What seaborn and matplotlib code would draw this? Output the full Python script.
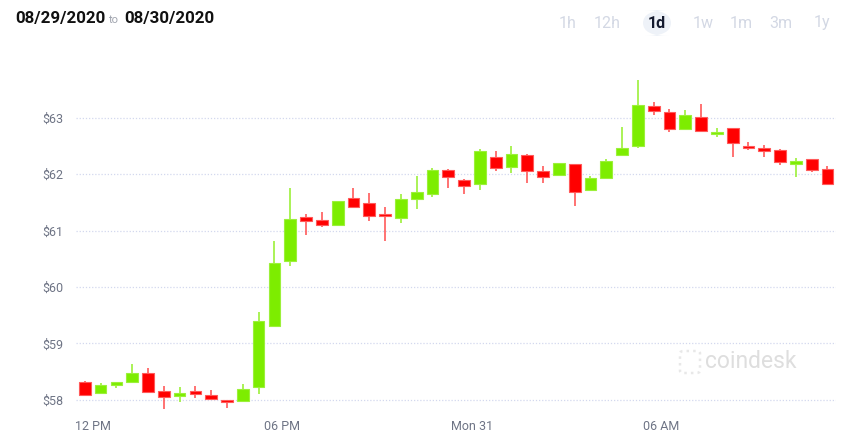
"""Candlestick chart, 30 min candles, 1d view."""
import matplotlib
matplotlib.use("Agg")
import matplotlib.pyplot as plt
import matplotlib.dates as mdates
from matplotlib.patches import FancyBboxPatch
import numpy as np
import pandas as pd
import seaborn as sns

# candle open times (30 min)
candle_start = "2020-08-30 11:30"
n_candles = 48

opens = [58.31, 58.13, 58.27, 58.31, 58.47, 58.16, 58.07, 58.16, 58.08, 57.99, 57.98, 58.22,
         59.30, 60.46, 61.24, 61.19, 61.10, 61.57, 61.49, 61.30, 61.22, 61.56, 61.65, 62.07,
         61.89, 61.83, 62.31, 62.13, 62.34, 62.05, 61.98, 62.18, 61.72, 61.93, 62.34, 62.49,
         63.21, 63.10, 62.80, 63.01, 62.71, 62.82, 62.50, 62.47, 62.42, 62.18, 62.27, 62.09]
highs = [58.33, 58.30, 58.31, 58.63, 58.57, 58.25, 58.22, 58.25, 58.18, 57.99, 58.28, 59.56,
         60.82, 61.76, 61.29, 61.33, 61.53, 61.76, 61.66, 61.42, 61.65, 61.96, 62.10, 62.09,
         61.91, 62.45, 62.40, 62.50, 62.35, 62.15, 62.20, 62.18, 61.97, 62.26, 62.84, 63.67,
         63.27, 63.15, 63.13, 63.25, 62.82, 62.82, 62.57, 62.52, 62.45, 62.29, 62.27, 62.14]
lows = [58.07, 58.11, 58.21, 58.29, 58.14, 57.83, 57.97, 58.04, 58.01, 57.86, 57.98, 58.11,
        59.30, 60.38, 60.92, 61.07, 61.08, 61.39, 61.17, 60.81, 61.13, 61.38, 61.59, 61.75,
        61.65, 61.71, 62.05, 62.02, 61.84, 61.85, 61.98, 61.44, 61.72, 61.91, 62.32, 62.46,
        63.04, 62.74, 62.80, 62.77, 62.65, 62.31, 62.43, 62.31, 62.16, 61.94, 62.04, 61.80]
closes = [58.09, 58.27, 58.31, 58.47, 58.14, 58.05, 58.12, 58.11, 58.02, 57.96, 58.20, 59.40,
          60.42, 61.20, 61.17, 61.09, 61.53, 61.42, 61.26, 61.25, 61.56, 61.69, 62.08, 61.94,
          61.79, 62.40, 62.11, 62.36, 62.05, 61.95, 62.19, 61.69, 61.93, 62.24, 62.47, 63.23,
          63.11, 62.80, 63.04, 62.77, 62.74, 62.55, 62.47, 62.41, 62.21, 62.23, 62.08, 61.82]

y_ticks = [58, 59, 60, 61, 62, 63]
x_tick_times = ["2020-08-30 12:00", "2020-08-30 18:00", "2020-08-31 00:00", "2020-08-31 06:00"]
x_tick_labels = ["12 PM", "06 PM", "Mon 31", "06 AM"]
ranges = ["1h", "12h", "1d", "1w", "1m", "3m", "1y"]
active_range = "1d"

UP = "#7ded00"
UP_EDGE = "#9cf03a"
DOWN = "#ff0000"
DOWN_EDGE = "#ff5a5a"
GRID = "#d3d8ee"
TICK = "#6e7485"

sns.set_theme(style="white")
plt.rcParams["font.family"] = ["Roboto", "DejaVu Sans"]

df = pd.DataFrame({
    "time": pd.date_range(candle_start, periods=n_candles, freq="30min"),
    "open": opens, "high": highs, "low": lows, "close": closes,
})
df["mid"] = mdates.date2num(df["time"] + pd.Timedelta(minutes=15))
df["up"] = df["close"] >= df["open"]
df["bottom"] = df[["open", "close"]].min(axis=1)
df["height"] = (df["open"] - df["close"]).abs().clip(lower=0.025)

fig = plt.figure(figsize=(8.56, 4.38), dpi=100)
ax = fig.add_axes([76 / 856, 1 - 410 / 438, 760 / 856, 346 / 438])

step = 0.5 / 24
for up, face, edge in [(True, UP, UP_EDGE), (False, DOWN, DOWN_EDGE)]:
    sub = df[df["up"] == up]
    ax.vlines(sub["mid"], sub["low"], sub["high"], color=edge, linewidth=1.2, zorder=2)
    ax.bar(sub["mid"], sub["height"], bottom=sub["bottom"], width=step * 0.74,
           color=face, edgecolor=edge, linewidth=0.8, zorder=3)

t0 = mdates.date2num(pd.Timestamp("2020-08-30 12:00"))
ax.set_xlim(t0 - 0.53 / 24, t0 + 23.52 / 24)
ax.set_ylim(57.82, 63.95)

ax.set_yticks(y_ticks)
ax.set_yticklabels([f"${v}" for v in y_ticks])
ax.set_xticks(mdates.date2num(pd.to_datetime(x_tick_times)))
ax.set_xticklabels(x_tick_labels)
ax.tick_params(axis="both", length=0, labelsize=9, labelcolor=TICK)
ax.tick_params(axis="x", pad=7)
ax.tick_params(axis="y", pad=9)
ax.yaxis.grid(True, color=GRID, linestyle=(0, (1, 1.5)), linewidth=0.9)
ax.xaxis.grid(False)
ax.set_axisbelow(True)
sns.despine(ax=ax, left=True, bottom=True)

# header
fig.text(15 / 856, 1 - 19 / 438, "08/29/2020", fontsize=12.2, fontweight="bold",
         color="#111111", va="center", ha="left")
fig.text(109 / 856, 1 - 20 / 438, "to", fontsize=8, color="#a0a4ae", va="center", ha="left")
fig.text(124 / 856, 1 - 19 / 438, "08/30/2020", fontsize=12.2, fontweight="bold",
         color="#111111", va="center", ha="left")

range_x = [568, 607, 657, 703, 741, 781, 822]
for label, px in zip(ranges, range_x):
    if label == active_range:
        fig.patches.append(FancyBboxPatch(((px - 14) / 856, 1 - 36 / 438), 28 / 856, 26 / 438,
                                          boxstyle="round,pad=0,rounding_size=0.03",
                                          transform=fig.transFigure, facecolor="#eef2f8",
                                          edgecolor="none"))
        fig.text(px / 856, 1 - 23 / 438, label, fontsize=11.5, fontweight="bold",
                 color="#141a2e", ha="center", va="center")
    else:
        fig.text(px / 856, 1 - 23 / 438, label, fontsize=11.5, color="#d3d8e4",
                 ha="center", va="center")

# watermark
fig.patches.append(FancyBboxPatch((680 / 856, 1 - 373 / 438), 20 / 856, 22 / 438,
                                  boxstyle="round,pad=0,rounding_size=0.005",
                                  transform=fig.transFigure, facecolor="none",
                                  edgecolor="#e8e8e8", linewidth=1.8, linestyle=":"))
fig.text(705 / 856, 1 - 362 / 438, "coindesk", fontsize=16.5, color="#dedede",
         ha="left", va="center")

fig.savefig("out.png", dpi=100)
